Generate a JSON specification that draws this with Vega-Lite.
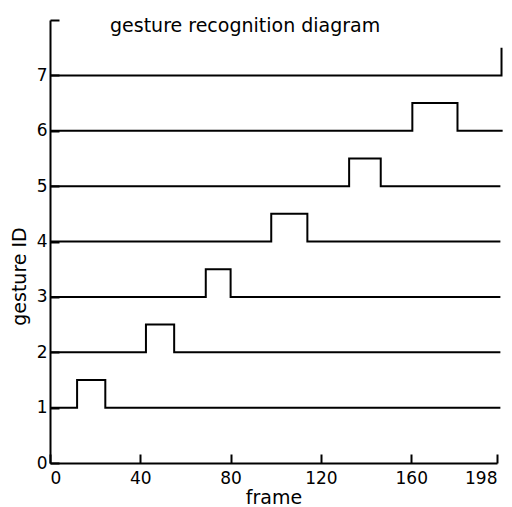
{
  "$schema": "https://vega.github.io/schema/vega-lite/v6.json",
  "width": 447,
  "height": 443,
  "autosize": "none",
  "padding": {"left": 50, "top": 20, "right": 15, "bottom": 44},
  "background": "white",
  "title": {
    "text": "gesture recognition diagram",
    "anchor": "start",
    "frame": "group",
    "dx": 60,
    "offset": -17,
    "fontSize": 19,
    "font": "DejaVu Sans",
    "fontWeight": "normal",
    "color": "black"
  },
  "config": {
    "view": {"stroke": null},
    "axis": {
      "domainColor": "black",
      "domainWidth": 2,
      "tickColor": "black",
      "tickWidth": 2,
      "labelColor": "black",
      "titleColor": "black",
      "labelFont": "DejaVu Sans",
      "titleFont": "DejaVu Sans",
      "labelFontSize": 17,
      "titleFontSize": 19,
      "titleFontWeight": "normal",
      "grid": false
    }
  },
  "data": {
    "values": [
      {"gesture": 1, "frame": 0, "value": 1},
      {"gesture": 1, "frame": 12, "value": 1.5},
      {"gesture": 1, "frame": 24.5, "value": 1},
      {"gesture": 1, "frame": 199.5, "value": 1},
      {"gesture": 2, "frame": 0, "value": 2},
      {"gesture": 2, "frame": 42.5, "value": 2.5},
      {"gesture": 2, "frame": 55, "value": 2},
      {"gesture": 2, "frame": 199.5, "value": 2},
      {"gesture": 3, "frame": 0, "value": 3},
      {"gesture": 3, "frame": 69, "value": 3.5},
      {"gesture": 3, "frame": 80, "value": 3},
      {"gesture": 3, "frame": 199.5, "value": 3},
      {"gesture": 4, "frame": 0, "value": 4},
      {"gesture": 4, "frame": 98, "value": 4.5},
      {"gesture": 4, "frame": 114, "value": 4},
      {"gesture": 4, "frame": 199.5, "value": 4},
      {"gesture": 5, "frame": 0, "value": 5},
      {"gesture": 5, "frame": 132.5, "value": 5.5},
      {"gesture": 5, "frame": 146.5, "value": 5},
      {"gesture": 5, "frame": 199.5, "value": 5},
      {"gesture": 6, "frame": 0, "value": 6},
      {"gesture": 6, "frame": 160.5, "value": 6.5},
      {"gesture": 6, "frame": 180.5, "value": 6},
      {"gesture": 6, "frame": 200.5, "value": 6},
      {"gesture": 7, "frame": 0, "value": 7},
      {"gesture": 7, "frame": 200, "value": 7.5}
    ]
  },
  "mark": {"type": "line", "interpolate": "step-after", "color": "black", "strokeWidth": 2, "clip": false},
  "encoding": {
    "x": {
      "field": "frame",
      "type": "quantitative",
      "scale": {"domain": [0, 198], "nice": false, "zero": true},
      "axis": {
        "title": "frame",
        "values": [0, 40, 80, 120, 160, 198],
        "tickSize": -9,
        "labelPadding": 16,
        "titlePadding": 2
      }
    },
    "y": {
      "field": "value",
      "type": "quantitative",
      "scale": {"domain": [0, 8], "nice": false},
      "axis": {
        "title": "gesture ID",
        "values": [0, 1, 2, 3, 4, 5, 6, 7, 8],
        "labelExpr": "datum.value == 8 ? '' : datum.label",
        "tickSize": -9,
        "labelPadding": 12,
        "titlePadding": 7,
        "titleY": 256
      }
    },
    "detail": {"field": "gesture", "type": "nominal"}
  }
}
